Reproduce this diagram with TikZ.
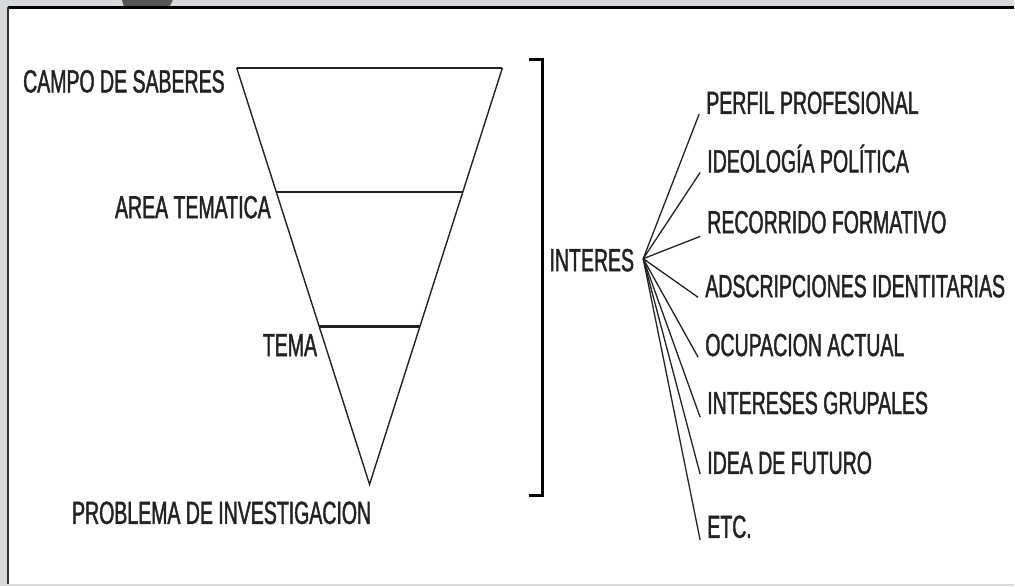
\documentclass[tikz,border=0pt]{standalone}
\usepackage{fontspec}
\setmainfont{Liberation Sans}[FakeStretch=0.61, FakeBold=1.3]
\usetikzlibrary{calc}
\definecolor{framegray}{HTML}{D5D9DC}
\definecolor{tabgray}{HTML}{555555}
\definecolor{ink}{HTML}{222222}
\tikzset{
  lbl/.style={inner sep=0pt, text height=23pt, text depth=0pt, anchor=west,
    font=\fontsize{32}{32}\selectfont, text=ink},
  edge/.style={draw=ink, line width=1.4pt},
  level/.style={draw=ink, line width=2.4pt},
  fanline/.style={draw=ink, line width=1.3pt},
  bracketline/.style={draw=black, line width=3pt}
}
\begin{document}
\begin{tikzpicture}[x=1pt, y=-1pt]
  % frame
  \fill[framegray] (0,0) rectangle (1015,587);
  \fill[white] (8,8) rectangle (1015,585);
  \draw[black, line width=2.5pt] (8,7.5) -- (1015,7.5);
  \draw[black!80, line width=2pt] (8,7) -- (8,585);
  \fill[tabgray] (122,0) -- (173,0) -- (170,6) -- (124,6) -- cycle;
  \useasboundingbox (0,0) rectangle (1015,587);

  % inverted triangle
  \coordinate (A) at (237,68);
  \coordinate (B) at (503,68);
  \coordinate (C) at (370,485);
  \draw[edge, line join=miter] (A) -- (C) -- (B);
  \draw[level] (A) -- (B);
  \draw[level] ($(A)!0.2974!(C)$) -- ($(B)!0.2974!(C)$);
  \draw[level] ($(A)!0.6211!(C)$) -- ($(B)!0.6211!(C)$);

  % left labels
  \node[lbl] (campo) at (23,81) {CAMPO DE SABERES};
  \node[lbl] (area) at (115,207) {AREA TEMATICA};
  \node[lbl] (tema) at (263,345) {TEMA};
  \node[lbl] (problema) at (72,513) {PROBLEMA DE INVESTIGACION};

  % bracket
  \coordinate (bt) at (530,60);
  \coordinate (bb) at (530,496);
  \draw[bracketline] (bt) -- (543,60) -- (543,496) -- (bb);

  % interes and fan
  \node[lbl] (interes) at (550,260) {INTERES};
  \coordinate (fan) at (644,259);

  \node[lbl] (p1) at (707,102.5) {PERFIL PROFESIONAL};
  \node[lbl] (p2) at (708,161) {IDEOLOGÍA POLÍTICA};
  \node[lbl] (p3) at (708,222) {RECORRIDO FORMATIVO};
  \node[lbl] (p4) at (706,286) {ADSCRIPCIONES IDENTITARIAS};
  \node[lbl] (p5) at (706,345) {OCUPACION ACTUAL};
  \node[lbl] (p6) at (708,403) {INTERESES GRUPALES};
  \node[lbl] (p7) at (708,463) {IDEA DE FUTURO};
  \node[lbl] (p8) at (708,527) {ETC.};

  \foreach \n/\d in {p1/0, p2/0, p3/3, p4/0, p5/1, p6/3, p7/0, p8/2} {
    \draw[fanline] (fan) -- ([xshift=-7pt, yshift=-\d pt]\n.south west);
  }
\end{tikzpicture}
\end{document}
